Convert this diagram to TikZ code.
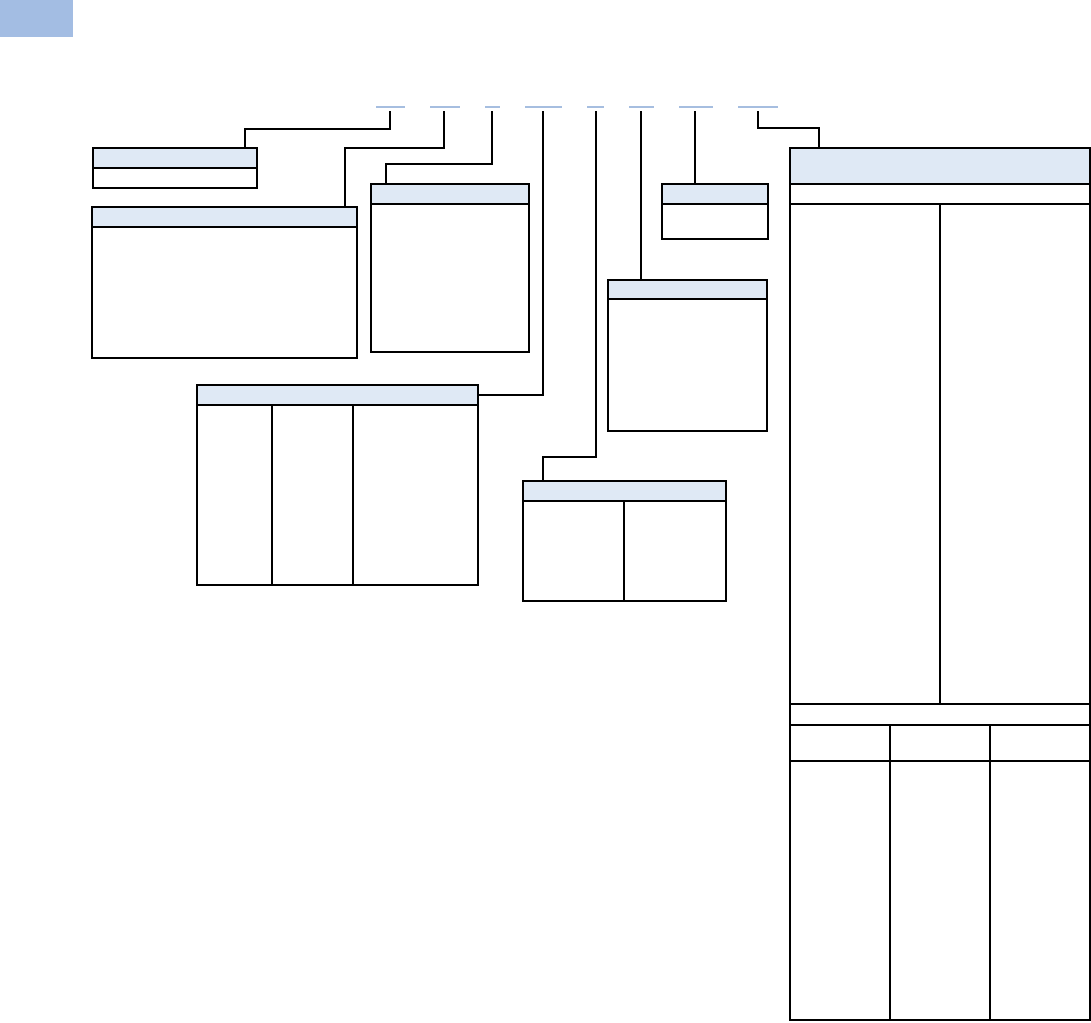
\documentclass[tikz,border=0pt]{standalone}
\usetikzlibrary{calc}
\definecolor{hdrblue}{HTML}{DFE9F5}
\definecolor{tabblue}{HTML}{A3BDE3}
\definecolor{keyblue}{HTML}{A6BEE0}
\newcommand{\px}{0.02cm}
\tikzset{
  cell/.style={draw, inner sep=0pt, outer sep=0pt, anchor=north west},
  hdr/.style={draw, fill=hdrblue},
  key/.style={draw=keyblue, line width=0.7pt},
}
\begin{document}
\begin{tikzpicture}[x=0.02cm, y=-0.02cm, line width=1.1pt]
  \useasboundingbox (0,0) rectangle (1091,1022);
  \fill[tabblue] (0,0) rectangle (73,37);
  % code fields
  \draw[key] (376,107) -- (405,107);
  \draw[key] (430,107) -- (460,107);
  \draw[key] (485,107) -- (500,107);
  \draw[key] (525,107) -- (562,107);
  \draw[key] (587,107) -- (604,107);
  \draw[key] (629,107) -- (654,107);
  \draw[key] (679,107) -- (713,107);
  \draw[key] (738,107) -- (778,107);
  \coordinate (k1) at (390,111);
  \coordinate (k2) at (444,111);
  \coordinate (k3) at (492,111);
  \coordinate (k4) at (543,111);
  \coordinate (k5) at (596,111);
  \coordinate (k6) at (641,111);
  \coordinate (k7) at (695,111);
  \coordinate (k8) at (758,111);
  % boxes
  \node[cell, minimum width=164*\px, minimum height=40*\px] (b1) at (93,148) {};
  \node[cell, minimum width=265*\px, minimum height=151*\px] (b2) at (92,207) {};
  \node[cell, minimum width=158*\px, minimum height=168*\px] (b3) at (371,184) {};
  \node[cell, minimum width=281*\px, minimum height=200*\px] (b4) at (197,385) {};
  \node[cell, minimum width=203*\px, minimum height=120*\px] (b5) at (523,481) {};
  \node[cell, minimum width=159*\px, minimum height=151*\px] (b6) at (608,280) {};
  \node[cell, minimum width=106*\px, minimum height=55*\px] (b7) at (662,184) {};
  \node[cell, minimum width=300*\px, minimum height=872*\px] (b8) at (790,148) {};
  \draw[hdr] (b1.north west) rectangle ($(b1.north east)+(0,20)$);
  \draw[hdr] (b2.north west) rectangle ($(b2.north east)+(0,20)$);
  \draw[hdr] (b3.north west) rectangle ($(b3.north east)+(0,20)$);
  \draw[hdr] (b4.north west) rectangle ($(b4.north east)+(0,20)$);
  \draw[hdr] (b5.north west) rectangle ($(b5.north east)+(0,20)$);
  \draw[hdr] (b6.north west) rectangle ($(b6.north east)+(0,19)$);
  \draw[hdr] (b7.north west) rectangle ($(b7.north east)+(0,20)$);
  \draw[hdr] (b8.north west) rectangle ($(b8.north east)+(0,36)$);
  % columns
  \draw (272,405) -- (272,585);
  \draw (353,405) -- (353,585);
  \draw (624,501) -- (624,601);
  \draw (790,204) -- (1090,204);
  \draw (940,204) -- (940,704);
  \draw[line width=1.6pt] (790,704) -- (1090,704);
  \draw (790,725) -- (1090,725);
  \draw (790,761) -- (1090,761);
  \draw (890,725) -- (890,1020);
  \draw (990,725) -- (990,1020);
  % leaders
  \draw (k1) -- ++(0,18) -| ([xshift=152*\px]b1.north west);
  \draw (k2) -- ++(0,37) -| ([xshift=253*\px]b2.north west);
  \draw (k3) -- ++(0,53) -| ([xshift=15*\px]b3.north west);
  \draw (k4) |- ([yshift=-10*\px]b4.north east);
  \draw (k5) -- ++(0,346) -| ([xshift=20*\px]b5.north west);
  \draw (k6) -- (k6 |- b6.north);
  \draw (k7) -- (k7 |- b7.north);
  \draw (k8) -- ++(0,17) -| ([xshift=29*\px]b8.north west);
\end{tikzpicture}
\end{document}
